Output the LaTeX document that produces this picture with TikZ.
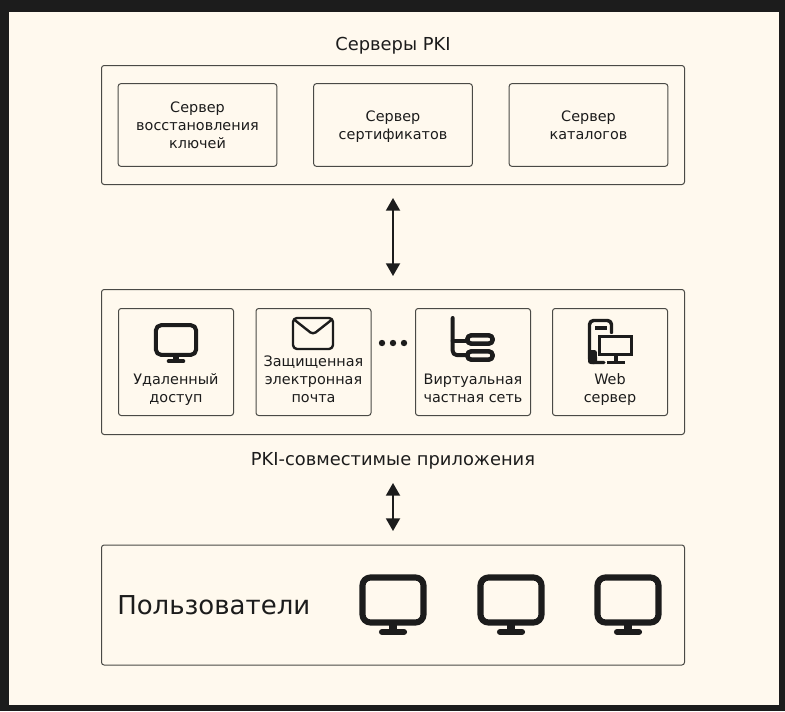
\documentclass[tikz,border=0pt]{standalone}
\usepackage{fontspec}
\setmainfont{DejaVu Sans}
\usetikzlibrary{arrows.meta}
\definecolor{bg}{HTML}{FFF9EE}
\definecolor{ink}{HTML}{1C1C1C}
\definecolor{edge}{HTML}{4A4A46}
\newcommand{\ls}{\strut}
\tikzset{
  x=0.75pt,y=-0.75pt,
  panel/.style={draw=edge,line width=0.75pt,rounded corners=2pt,fill=bg,inner sep=0},
  cardbox/.style={draw=edge,line width=0.75pt,rounded corners=2pt,fill=bg,inner sep=0},
  cardtext/.style={inner sep=0,align=center,text=ink,font=\fontsize{10.8}{13.5}\selectfont},
  caption/.style={text=ink,font=\fontsize{13.4}{15}\selectfont,inner sep=0,anchor=base},
  link/.style={draw=ink,line width=1.4pt,{Triangle[width=10.5pt,length=9.5pt]}-{Triangle[width=10.5pt,length=9.5pt]}},
  icon/.style={draw=ink,line join=round,line cap=round},
  pics/monitor/.style={code={
    \draw[icon,line width=#1*4.6pt,rounded corners=#1*6pt] (-#1*30.5,-#1*22.5) rectangle (#1*30.5,#1*22.5);
    \fill[ink] (-#1*4,#1*22) rectangle (#1*4,#1*30);
    \draw[icon,line width=#1*4.6pt] (-#1*11,#1*32) -- (#1*11,#1*32);
  }}
}
\begin{document}
\begin{tikzpicture}
\useasboundingbox (0,0) rectangle (785,711);
\fill[ink] (0,0) rectangle (785,711);
\fill[bg] (9,12) rectangle (779,705);
\node[caption] (title) at (393,50) {Серверы PKI};
\node[panel,minimum width=437.25pt,minimum height=89.25pt] (servers) at (393,125) {};
\node[panel,minimum width=437.25pt,minimum height=108.75pt] (apps) at (393,362) {};
\node[panel,minimum width=437.25pt,minimum height=90pt] (users) at (393,605) {};
\tikzset{c1/.style={cardbox,minimum width=119pt,minimum height=62pt}}
\node[c1] (recovery) at (197.5,125) {};
\node[c1] (certs) at (393,125) {};
\node[c1] (dirs) at (588.5,125) {};
\node[cardtext] (recoveryT) at (197.5,126.5) {\ls Сервер\\\ls восстановления\\\ls ключей};
\node[cardtext] (certsT) at (393,126.5) {\ls Сервер\\\ls сертификатов};
\node[cardtext] (dirsT) at (588.5,126.5) {\ls Сервер\\\ls каталогов};
\tikzset{c2/.style={cardbox,minimum width=86.25pt,minimum height=80.25pt}}
\node[c2] (remote) at (176,362) {};
\node[c2] (mail) at (313.5,362) {};
\node[c2] (vpn) at (473,362) {};
\node[c2] (web) at (610,362) {};
\node[cardtext] (remoteT) at (176,390) {\ls Удаленный\\\ls доступ};
\node[cardtext] (mailT) at (313.5,381) {\ls Защищенная\\\ls электронная\\\ls почта};
\node[cardtext] (vpnT) at (473,390) {\ls Виртуальная\\\ls частная сеть};
\node[cardtext] (webT) at (610,390) {\ls Web\\\ls сервер};
\foreach \x in {382,393,404} \fill[ink] (\x,343) circle (3.2);
\node[caption] (compat) at (393,465) {PKI-совместимые приложения};
\node[text=ink,inner sep=0,anchor=base west,font=\fontsize{19.5}{22}\selectfont] (usersT) at (117,614.5) {Пользователи};
% monitors
\pic at (176,340) {monitor=0.66};
\pic at (393,600) {monitor=1};
\pic at (511,600) {monitor=1};
\pic at (628,600) {monitor=1};
% envelope
\draw[icon,line width=1.8pt,rounded corners=3pt] (293,318) rectangle (333,349);
\draw[icon,line width=1.8pt,rounded corners=2.5pt] (294,319.5) -- (313,334.5) -- (332,319.5);
% vpn
\draw[icon,line width=3pt,rounded corners=3pt] (452.7,318) -- (452.7,355) -- (466,355);
\draw[icon,line width=3pt] (452.7,340.5) -- (466,340.5);
\draw[icon,line width=3.4pt,rounded corners=3pt] (467.3,335.3) rectangle (492.7,343.7);
\draw[icon,line width=3.4pt,rounded corners=3pt] (467.3,351.3) rectangle (492.7,359.7);
% web server
\draw[icon,line width=2.6pt,rounded corners=3pt] (611.5,333) -- (611.5,320.5) -- (589.5,320.5) -- (589.5,362.5) -- (604,362.5);
\fill[ink,rounded corners=2pt] (588,350) rectangle (597,364);
\fill[ink] (595,326) rectangle (607,330);
\fill[bg] (597,334) rectangle (634,357);
\draw[draw=ink,line width=2.5pt] (599.7,336.7) rectangle (631.5,354.3);
\draw[draw=ink,line width=2.4pt] (616,355) -- (616,362);
\draw[draw=ink,line width=2.4pt] (607,362.5) -- (625,362.5);
% connectors
\coordinate (a1) at (393,198); \coordinate (a2) at (393,276);
\coordinate (b1) at (393,483); \coordinate (b2) at (393,531);
\draw[link] (a1) -- (a2);
\draw[link] (b1) -- (b2);
\end{tikzpicture}
\end{document}
